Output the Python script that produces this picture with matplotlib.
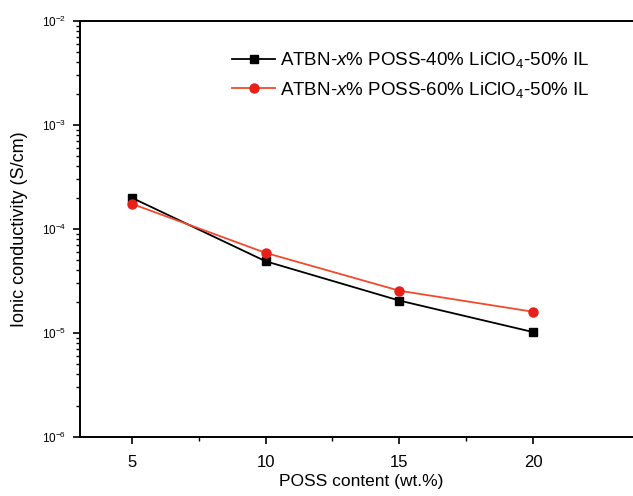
import matplotlib
matplotlib.use('Agg')
import matplotlib.pyplot as plt
from matplotlib.ticker import LogLocator, NullFormatter

plt.rcParams['font.family'] = ['Liberation Sans', 'DejaVu Sans']
plt.rcParams['mathtext.fontset'] = 'custom'
plt.rcParams['mathtext.rm'] = 'Liberation Sans'
plt.rcParams['mathtext.it'] = 'Liberation Sans:italic'

# POSS content (wt.%)
poss = [5, 10, 15, 20]
# ionic conductivity (S/cm)
cond_40 = [2.0e-4, 4.9e-5, 2.05e-5, 1.02e-5]
cond_60 = [1.75e-4, 5.9e-5, 2.55e-5, 1.6e-5]
labels = [r'ATBN-$\it{x}$% POSS-40% LiClO$_4$-50% IL',
          r'ATBN-$\it{x}$% POSS-60% LiClO$_4$-50% IL']

fig = plt.figure(figsize=(6.33, 4.96), dpi=100)
ax = fig.add_axes([80 / 633, 1 - 437 / 496, 563 / 633, 416 / 496])

ax.plot(poss, cond_40, color='black', marker='s', markersize=6, lw=1.3, label=labels[0])
ax.plot(poss, cond_60, color='#f04a2a', marker='o', markersize=6.5, lw=1.3,
        markerfacecolor='#e8201a', markeredgecolor='#e8201a', label=labels[1])

ax.set_yscale('log')
ax.set_ylim(1e-6, 1e-2)
ax.set_xlim(3.07, 24.1)
ax.set_xticks([5, 10, 15, 20])
ax.set_xticks([7.5, 12.5, 17.5], minor=True)
ax.yaxis.set_minor_locator(LogLocator(base=10, subs=range(2, 10)))
ax.yaxis.set_minor_formatter(NullFormatter())

ax.tick_params(axis='both', which='major', direction='out', length=5, width=1.2)
ax.tick_params(axis='both', which='minor', direction='out', length=3, width=1)
ax.tick_params(axis='x', labelsize=12, pad=8)
ax.tick_params(axis='y', labelsize=8.5, pad=5)
ax.spines['right'].set_visible(False)
for s in ['left', 'bottom', 'top']:
    ax.spines[s].set_linewidth(1.4)

ax.set_xlabel('POSS content (wt.%)', fontsize=12.5, labelpad=3)
ax.set_ylabel('Ionic conductivity (S/cm)', fontsize=13, labelpad=10)

ax.legend(loc='upper left', bbox_to_anchor=(0.24, 0.97), frameon=False, fontsize=13.5,
          handlelength=2.3, handletextpad=0.25, labelspacing=0.5)

fig.savefig('out.png', dpi=100)
